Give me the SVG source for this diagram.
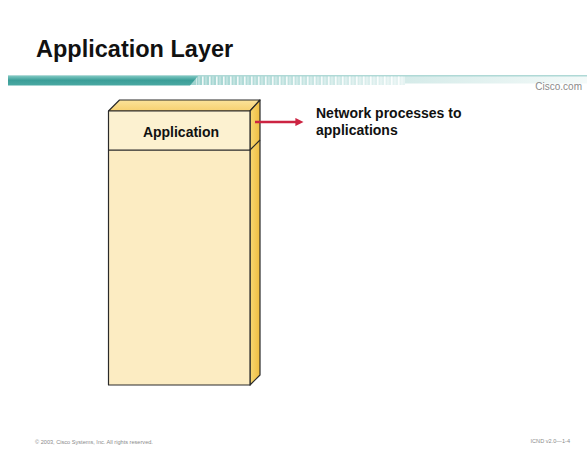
<svg xmlns="http://www.w3.org/2000/svg" width="587" height="454" viewBox="0 0 587 454">
  <style>
    .title { font-family: "Liberation Sans", Arial, sans-serif; font-weight: bold; font-size: 23.5px; fill: #111; }
    .label { font-family: "Liberation Sans", Arial, sans-serif; font-weight: bold; font-size: 14px; fill: #111; }
    .small { font-family: "Liberation Sans", Arial, sans-serif; font-size: 10px; fill: #8a8a8a; }
    .foot { font-family: "Liberation Sans", Arial, sans-serif; font-size: 5.6px; fill: #8a8a8a; }
    .edge { stroke: #2a2a2a; stroke-width: 1.2; stroke-linejoin: round; }
  </style>
  <defs>
    <linearGradient id="barGrad" x1="0" y1="0" x2="0" y2="1">
      <stop offset="0" stop-color="#7cc6c0"/>
      <stop offset="0.45" stop-color="#3b9e98"/>
      <stop offset="1" stop-color="#4aa9a3"/>
    </linearGradient>
    <linearGradient id="fadeGrad" x1="0" y1="0" x2="1" y2="0">
      <stop offset="0" stop-color="#9fd3cf"/>
      <stop offset="1" stop-color="#e6f3f2"/>
    </linearGradient>
    <linearGradient id="tailGrad" x1="0" y1="0" x2="1" y2="0">
      <stop offset="0" stop-color="#d5ebe9"/>
      <stop offset="1" stop-color="#f4faf9"/>
    </linearGradient>
    <pattern id="stripes" x="195" y="0" width="7" height="20" patternUnits="userSpaceOnUse">
      <rect x="0" y="0" width="1.6" height="20" fill="#ffffff" opacity="0.85"/>
      <rect x="3.5" y="0" width="1" height="20" fill="#ffffff" opacity="0.5"/>
    </pattern>
    <linearGradient id="topFace" x1="0" y1="0" x2="0" y2="1">
      <stop offset="0" stop-color="#fbe39a"/>
      <stop offset="1" stop-color="#f6d070"/>
    </linearGradient>
    <linearGradient id="sideFace" x1="0" y1="0" x2="1" y2="0">
      <stop offset="0" stop-color="#f7d873"/>
      <stop offset="1" stop-color="#efbd40"/>
    </linearGradient>
    <marker id="arrowHead" viewBox="0 0 10 10" refX="2" refY="5" markerWidth="4" markerHeight="3.4" orient="auto" markerUnits="strokeWidth">
      <path d="M0,0 L10,5 L0,10 Z" fill="#cc2442"/>
    </marker>
  </defs>

  <rect x="0" y="0" width="587" height="454" fill="#ffffff"/>

  <!-- header -->
  <g id="header">
    <text class="title" x="36" y="57">Application Layer</text>
    <!-- teal banner: solid part, striped part, fading tail -->
    <line x1="8" y1="76" x2="587" y2="76" stroke="#5fb2ad" stroke-width="1"/>
    <rect x="405" y="76.5" width="182" height="7" fill="url(#tailGrad)"/>
    <rect x="190" y="76.5" width="215" height="8.5" fill="url(#fadeGrad)"/>
    <rect x="196" y="76.5" width="209" height="8.5" fill="url(#stripes)"/>
    <path d="M8,76 L198,76 L190,85.5 L8,85.5 Z" fill="url(#barGrad)"/>
    <text class="small" x="582" y="90" text-anchor="end">Cisco.com</text>
  </g>

  <!-- application layer block -->
  <g id="application-block">
    <polygon class="edge" points="108.5,111 119.5,100 260,100 250,111" fill="url(#topFace)"/>
    <polygon class="edge" points="250,111 260,100 260,375 250,385" fill="url(#sideFace)"/>
    <rect class="edge" x="108.5" y="150" width="141.5" height="235" fill="#fcecc2"/>
    <rect class="edge" x="108.5" y="111" width="141.5" height="39" fill="#fcf1d0"/>
    <line class="edge" x1="250" y1="150" x2="260" y2="140"/>
    <text class="label" x="181" y="137" text-anchor="middle">Application</text>
  </g>

  <!-- connector -->
  <g id="connectors">
    <line x1="255" y1="122" x2="297" y2="122" stroke="#cc2442" stroke-width="2.4" marker-end="url(#arrowHead)"/>
  </g>

  <g id="description">
    <text class="label" x="316" y="117.5">Network processes to</text>
    <text class="label" x="316" y="135">applications</text>
  </g>

  <!-- footer -->
  <g id="footer">
    <text class="foot" x="35" y="444">© 2003, Cisco Systems, Inc. All rights reserved.</text>
    <text class="foot" x="570" y="443" text-anchor="end">ICND v2.0—1-4</text>
  </g>
</svg>
